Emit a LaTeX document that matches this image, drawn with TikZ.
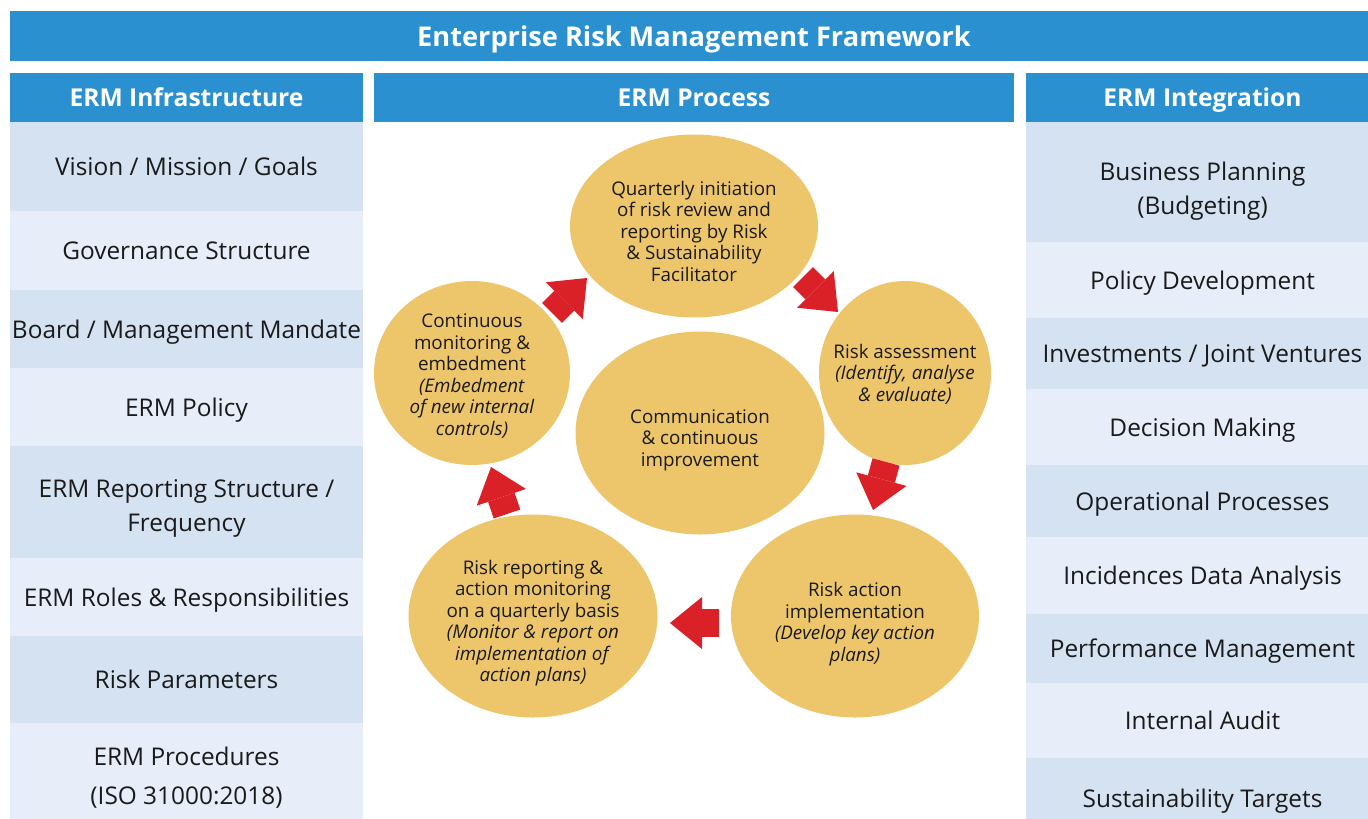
\documentclass[tikz,border=0pt]{standalone}
\usepackage{fontspec}
\setmainfont{Open Sans}
\usetikzlibrary{positioning,chains,shapes.geometric,arrows.meta}
\definecolor{hdblue}{RGB}{43,144,208}
\definecolor{rowdark}{RGB}{213,226,242}
\definecolor{rowlight}{RGB}{231,238,249}
\definecolor{gold}{RGB}{237,198,107}
\definecolor{arrred}{RGB}{218,33,40}
\definecolor{txt}{RGB}{26,26,26}
% lowers a block of lines inside its node by half of #1
\newcommand{\textdrop}[1]{\rule{0pt}{\dimexpr\fontcharht\font`\l+#1\relax}}

\begin{document}
\begin{tikzpicture}[x=1pt,y=-1pt,
    headbox/.style={fill=hdblue,text=white,inner sep=0pt,outer sep=0pt,text depth=0pt,
      minimum width=353pt,minimum height=49pt,font=\fontsize{24.6}{28}\selectfont\bfseries},
    rowbox/.style={inner sep=0pt,outer sep=0pt,align=center,text=txt,text depth=0pt,
      minimum width=353pt,font=\fontsize{24.4}{34}\selectfont},
    darkrow/.style={fill=rowdark},
    lightrow/.style={fill=rowlight},
    stage/.style={ellipse,fill=gold,inner sep=-15pt,align=center,text=txt,
      font=\fontsize{18.8}{21.5}\selectfont},
    flow/.style={draw=arrred,line width=28pt,
      -{Triangle[width=52pt,length=32pt,line width=0pt]}}
  ]
  \useasboundingbox (0,0) rectangle (1368,819);
  \clip (0,0) rectangle (1368,819);

  % the title
  \node[headbox,minimum width=1368pt,minimum height=50pt,font=\fontsize{27.2}{30}\selectfont\bfseries]
    (title) at (694,36) {Enterprise Risk Management Framework};

  % the infrastructure column
  \begin{scope}[shift={(186.5,97.5)},start chain=going below,node distance=0pt]
  \node[headbox,on chain] (infhead) {ERM Infrastructure};
  \foreach \i/\h/\c/\txt in {1/89/darkrow/{Vision / Mission / Goals},
      2/79/lightrow/{Governance Structure},
      3/78/darkrow/{Board / Management Mandate},
      4/78/lightrow/{ERM Policy},
      5/112/darkrow/{\textdrop{6pt}ERM Reporting Structure /\\Frequency},
      6/78/lightrow/{ERM Roles \& Responsibilities},
      7/87/darkrow/{Risk Parameters},
      8/106/lightrow/{ERM Procedures\\[5pt](ISO 31000:2018)}}
    \node[rowbox,on chain,\c,minimum height=\h pt] (inf\i) {\txt};
  \end{scope}

  % the integration column
  \begin{scope}[shift={(1202.5,97.5)},start chain=going below,node distance=0pt]
  \node[headbox,on chain] (inthead) {ERM Integration};
  \foreach \i/\h/\c/\txt in {1/120/darkrow/{\textdrop{12pt}Business Planning\\(Budgeting)},
      2/76/lightrow/{Policy Development},
      3/71/darkrow/{Investments / Joint Ventures},
      4/76/lightrow/{Decision Making},
      5/72/darkrow/{Operational Processes},
      6/77/lightrow/{Incidences Data Analysis},
      7/69/darkrow/{Performance Management},
      8/75/lightrow/{Internal Audit},
      9/80/darkrow/{Sustainability Targets}}
    \node[rowbox,on chain,\c,minimum height=\h pt] (int\i) {\txt};
  \end{scope}

  % the process
  \node[headbox,minimum width=640pt] (prochead) at (694,97.5) {ERM Process};

  \node[stage,minimum width=248pt,minimum height=183pt] (review) at (694,226)
    {\textdrop{10pt}Quarterly initiation\\of risk review and\\reporting by Risk\\\& Sustainability\\Facilitator};
  \node[stage,minimum width=172pt,minimum height=184pt] (assess) at (905,373)
    {\textdrop{2pt}Risk assessment\\\textit{(Identify, analyse}\\\textit{\& evaluate)}};
  \node[stage,minimum width=248pt,minimum height=203pt] (action) at (855,616)
    {\textdrop{16pt}Risk action\\implementation\\\textit{(Develop key action}\\\textit{plans)}};
  \node[stage,minimum width=249pt,minimum height=203pt] (report) at (533,616)
    {\textdrop{14pt}Risk reporting \&\\action monitoring\\on a quarterly basis\\\textit{(Monitor \& report on}\\\textit{implementation of}\\\textit{action plans)}};
  \node[stage,minimum width=196pt,minimum height=184pt] (embed) at (472,373)
    {\textdrop{6pt}Continuous\\monitoring \&\\embedment\\\textit{(Embedment}\\\textit{of new internal}\\\textit{controls)}};
  \node[stage,minimum width=249pt,minimum height=203pt] (comm) at (700,433)
    {\textdrop{14pt}Communication\\\& continuous\\improvement};

  % the arrows
  \coordinate (a1s) at (552,313); \coordinate (a1e) at (587,278);
  \coordinate (a2s) at (803,277); \coordinate (a2e) at (838,312);
  \coordinate (a3s) at (886,462); \coordinate (a3e) at (873,510);
  \coordinate (a4s) at (719,623); \coordinate (a4e) at (670,623);
  \coordinate (a5s) at (507,514); \coordinate (a5e) at (491,467);
  \draw[flow] (a1s) -- (a1e);
  \draw[flow] (a2s) -- (a2e);
  \draw[flow] (a3s) -- (a3e);
  \draw[flow] (a4s) -- (a4e);
  \draw[flow] (a5s) -- (a5e);
\end{tikzpicture}
\end{document}
